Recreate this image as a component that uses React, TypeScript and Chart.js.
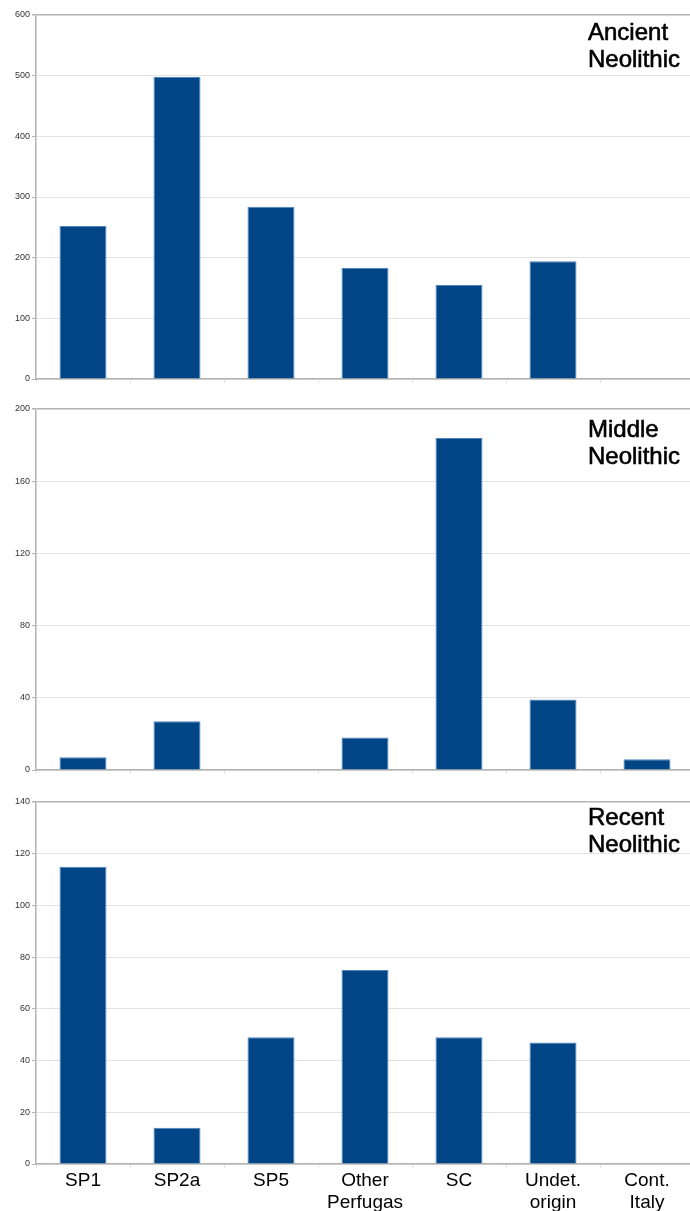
import React, { useEffect, useRef } from 'react';
import { Chart, registerables } from 'chart.js';

Chart.register(...registerables);

// ---- data ----
const categories = ['SP1', 'SP2a', 'SP5', 'Other Perfugas', 'SC', 'Undet. origin', 'Cont. Italy'];
const ancientValues = [252, 498, 284, 183, 155, 194, 0];
const middleValues = [7, 27, 0, 18, 184, 39, 6];
const recentValues = [115, 14, 49, 75, 49, 47, 0];
const panelTitles = ['Ancient Neolithic', 'Middle Neolithic', 'Recent Neolithic'];
const yMaxes = [600, 200, 140];
const ySteps = [100, 40, 20];

// ---- layout / style ----
const FONT = '"Liberation Sans", Arial, Helvetica, sans-serif';
const BAR = '#004586';
const AXIS = '#b3b3b3';
const GRID = '#e3e3e3';
const CANVAS_W = 694;
const Y_AXIS_W = 36;

const layouts = [
  { top: 0, height: 395, padTop: 15, xAxisH: 16, titleTop: 18 },
  { top: 395, height: 395, padTop: 14, xAxisH: 20, titleTop: 415 },
  { top: 790, height: 421, padTop: 12, xAxisH: 47, titleTop: 803 },
];

function makeChart(canvas: HTMLCanvasElement, values: number[], max: number, step: number, lay: any, showLabels: boolean) {
  return new Chart(canvas, {
    type: 'bar',
    data: {
      labels: categories.map((c) => c.split(' ')),
      datasets: [
        {
          data: values,
          backgroundColor: BAR,
          borderColor: '#4f84bd',
          borderWidth: 1,
          barPercentage: 0.5,
          categoryPercentage: 1,
        },
      ],
    },
    options: {
      responsive: false,
      animation: false,
      layout: { padding: { top: lay.padTop, bottom: 0, left: 0, right: 0 } },
      plugins: { legend: { display: false }, tooltip: { enabled: false }, title: { display: false } },
      scales: {
        x: {
          offset: true,
          grid: {
            offset: true,
            drawOnChartArea: false,
            drawTicks: true,
            tickLength: 4,
            tickColor: GRID,
            color: GRID,
          },
          border: { display: true, color: AXIS, width: 1.5 },
          ticks: {
            display: showLabels,
            color: '#000',
            padding: 2,
            maxRotation: 0,
            autoSkip: false,
            font: { family: FONT, size: 19, lineHeight: 1.15 },
          },
          afterFit: (s: any) => {
            s.height = lay.xAxisH;
          },
        },
        y: {
          min: 0,
          max: max,
          grid: {
            color: (ctx: any) => (ctx.tick && ctx.tick.value === max ? AXIS : GRID),
            lineWidth: (ctx: any) => (ctx.tick && ctx.tick.value === max ? 1.5 : 1),
            tickLength: 4,
            tickColor: AXIS,
          },
          border: { display: true, color: AXIS, width: 1.5 },
          ticks: {
            stepSize: step,
            color: '#333',
            padding: 2,
            font: { family: FONT, size: 9 },
          },
          afterFit: (s: any) => {
            s.width = Y_AXIS_W;
          },
        },
      },
    },
  });
}

export default function App() {
  const r1 = useRef<HTMLCanvasElement>(null);
  const r2 = useRef<HTMLCanvasElement>(null);
  const r3 = useRef<HTMLCanvasElement>(null);

  useEffect(() => {
    const refs = [r1, r2, r3];
    const vals = [ancientValues, middleValues, recentValues];
    const charts = refs.map((r, i) =>
      makeChart(r.current as HTMLCanvasElement, vals[i], yMaxes[i], ySteps[i], layouts[i], i === 2)
    );
    return () => charts.forEach((c) => c.destroy());
  }, []);

  const refs = [r1, r2, r3];
  return (
    <div
      style={{
        position: 'fixed',
        left: 0,
        top: 0,
        width: 690,
        height: 1211,
        overflow: 'hidden',
        background: '#fff',
      }}
    >
      {layouts.map((lay, i) => (
        <canvas
          key={'c' + i}
          ref={refs[i]}
          width={CANVAS_W}
          height={lay.height}
          style={{ position: 'absolute', left: 0, top: lay.top, width: CANVAS_W, height: lay.height }}
        />
      ))}
      {layouts.map((lay, i) => (
        <div
          key={'t' + i}
          style={{
            position: 'absolute',
            left: 588,
            top: lay.titleTop,
            fontFamily: FONT,
            fontWeight: 'normal',
            fontSize: 24,
            lineHeight: '27px',
            color: '#000',
            whiteSpace: 'nowrap',
            WebkitTextStroke: '0.6px #000',
          }}
        >
          {panelTitles[i].split(' ').map((line, j) => (
            <div key={j}>{line}</div>
          ))}
        </div>
      ))}
    </div>
  );
}
